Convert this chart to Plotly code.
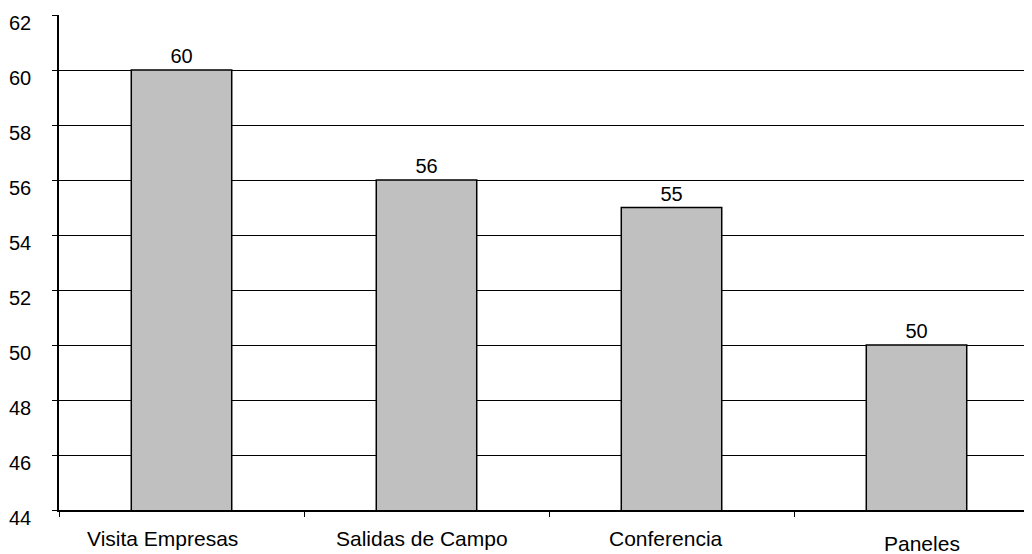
import plotly.graph_objects as go

categories = ["Visita Empresas", "Salidas de Campo", "Conferencia", "Paneles"]
values = [60, 56, 55, 50]
y_ticks = [44, 46, 48, 50, 52, 54, 56, 58, 60, 62]
label_dy = [0, 0, 0, -5]
label_dx = [-19, -5, -6, 5]

FONT = "Liberation Sans, Arial, sans-serif"

fig = go.Figure()
fig.add_trace(go.Bar(
    x=categories, y=values,
    width=0.41,
    marker=dict(color="#C0C0C0", line=dict(color="black", width=1.5)),
    text=[str(v) for v in values], textposition="outside",
    textfont=dict(family=FONT, size=20, color="black"),
    cliponaxis=False,
))

for c, dx, dy in zip(categories, label_dx, label_dy):
    fig.add_annotation(x=c, y=0, xref="x", yref="paper", yanchor="top",
                       text=c, showarrow=False, yshift=-15 + dy, xshift=dx,
                       font=dict(family=FONT, size=21, color="black"))

fig.update_layout(
    width=1031, height=546,
    margin=dict(l=51, r=0, t=7, b=44),
    paper_bgcolor="white", plot_bgcolor="white",
    showlegend=False,
    font=dict(family=FONT, size=20, color="black"),
)
fig.update_xaxes(
    type="category", range=[-0.5, 3.5],
    showticklabels=False, tickson="boundaries",
    ticks="outside", ticklen=5, tickcolor="black",
    showgrid=False, showline=True, linecolor="black", linewidth=1.5,
)
fig.update_yaxes(
    range=[44, 62], tickvals=y_ticks,
    ticks="outside", ticklen=5, tickcolor="black",
    showgrid=True, gridcolor="black", gridwidth=1,
    showline=True, linecolor="black", linewidth=1.5,
    ticklabelstandoff=17, ticklabelshift=8,
    tickfont=dict(family=FONT, size=20, color="black"),
    zeroline=False,
)

fig.write_html("out.html")
